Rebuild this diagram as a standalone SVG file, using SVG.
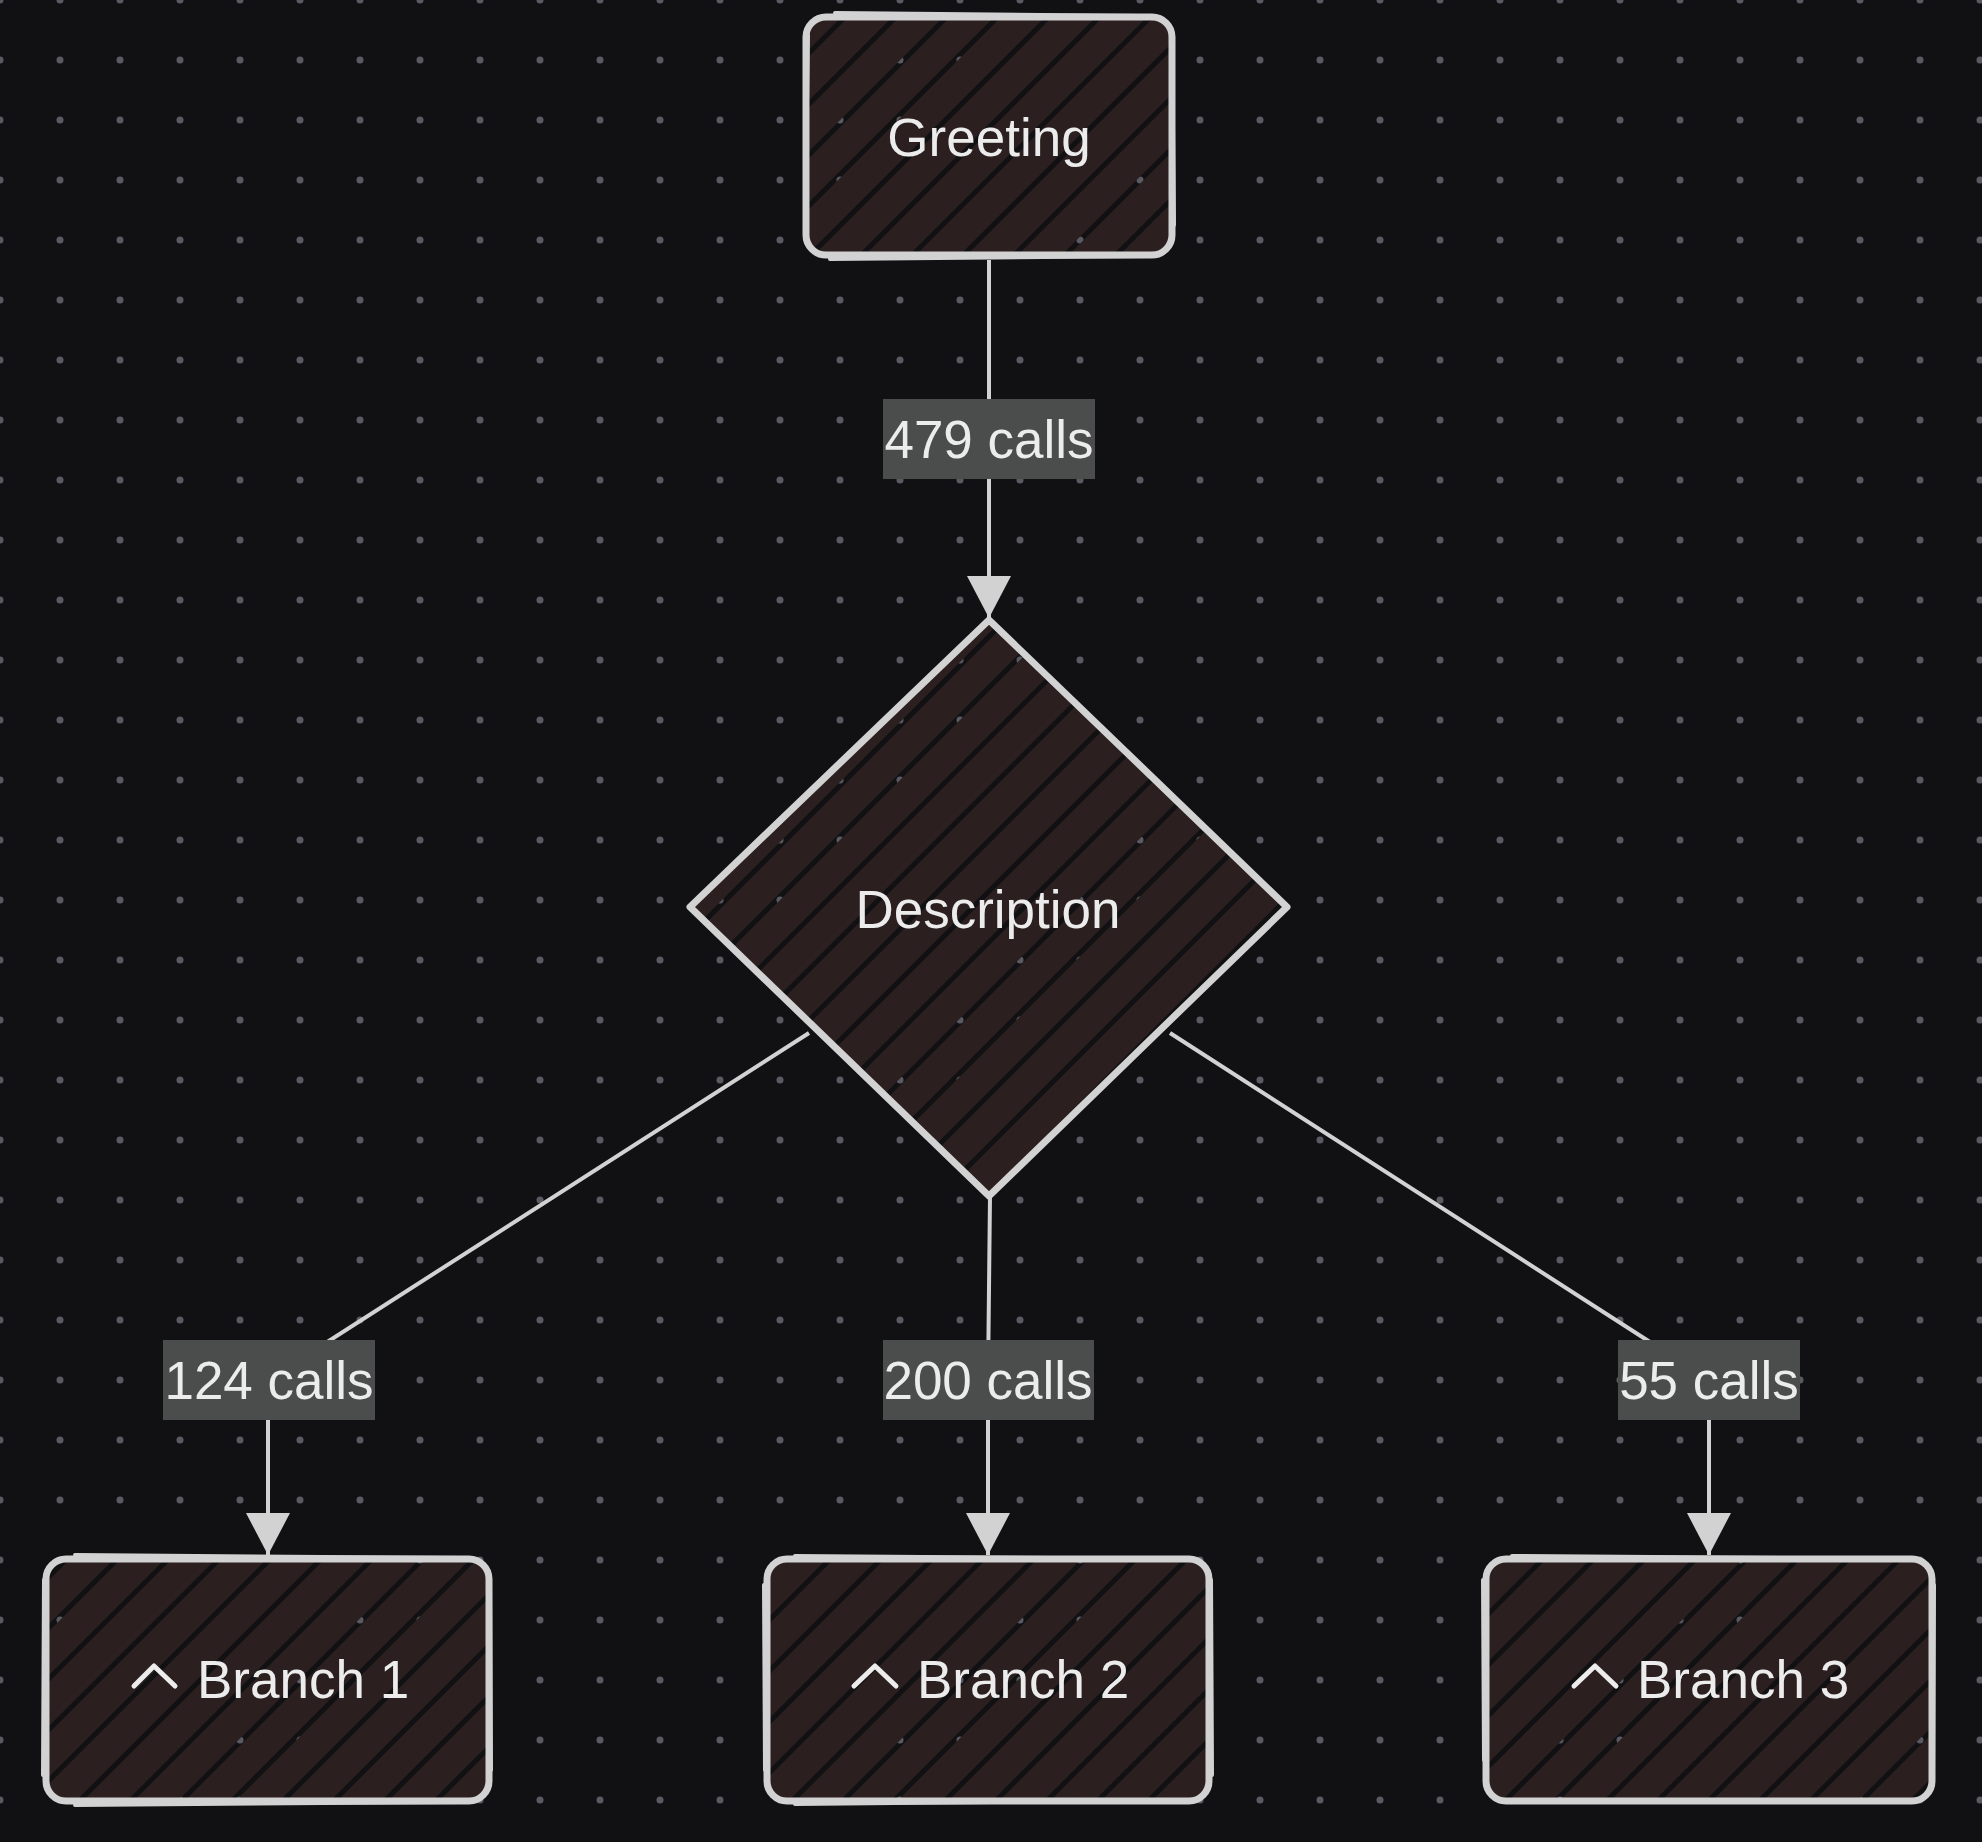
<svg xmlns="http://www.w3.org/2000/svg" width="1982" height="1842" viewBox="0 0 1982 1842">
  <defs>
    <pattern id="dots" x="-30" y="-30" width="60" height="60" patternUnits="userSpaceOnUse">
      <circle cx="30" cy="30" r="3.5" fill="#5a5a62"/>
    </pattern>
    <pattern id="hatch" width="36" height="36" patternUnits="userSpaceOnUse" patternTransform="rotate(-45)">
      <rect x="0" y="0" width="36" height="31" fill="#2b1f20"/>
    </pattern>
    <marker id="arrow" viewBox="0 0 42 44" refX="42" refY="22" markerWidth="42" markerHeight="44" markerUnits="userSpaceOnUse" orient="auto">
      <path d="M0,0 L42,22 L0,44 Z" fill="#d2d2d2"/>
    </marker>
    <style>
      .node { fill: url(#hatch); stroke: #d2d2d2; stroke-width: 7; stroke-linejoin: round; }
      .sketch { fill: none; stroke: #d2d2d2; stroke-width: 4; stroke-linecap: round; }
      .edge { fill: none; stroke: #d2d2d2; stroke-width: 4; stroke-linejoin: round; }
      .lblbg { fill: #4b4c4c; }
      .txt { font-family: "Liberation Sans", Arial, sans-serif; font-size: 53px; fill: #ececec; }
      .mid { text-anchor: middle; }
      .icon { fill: none; stroke: #ececec; stroke-width: 5; stroke-linecap: round; stroke-linejoin: round; }
    </style>
  </defs>

  <rect x="0" y="0" width="1982" height="1842" fill="#111114"/>
  <rect x="0" y="0" width="1982" height="1842" fill="url(#dots)"/>

  <g id="connectors">
    <path class="edge" d="M989 260 L989 618" marker-end="url(#arrow)"/>
    <path class="edge" d="M809 1033 L268 1380 L268 1555" marker-end="url(#arrow)"/>
    <path class="edge" d="M990 1196 L988 1380 L988 1555" marker-end="url(#arrow)"/>
    <path class="edge" d="M1170 1033 L1709 1380 L1709 1555" marker-end="url(#arrow)"/>

    <g id="label-479">
      <rect class="lblbg" x="883" y="399" width="212" height="80"/>
      <text class="txt mid" x="989" y="458">479 calls</text>
    </g>
    <g id="label-124">
      <rect class="lblbg" x="163" y="1340" width="212" height="80"/>
      <text class="txt mid" x="269" y="1399">124 calls</text>
    </g>
    <g id="label-200">
      <rect class="lblbg" x="883" y="1340" width="211" height="80"/>
      <text class="txt mid" x="988" y="1399">200 calls</text>
    </g>
    <g id="label-55">
      <rect class="lblbg" x="1618" y="1340" width="182" height="80"/>
      <text class="txt mid" x="1709" y="1399">55 calls</text>
    </g>
  </g>

  <g id="node-greeting">
    <rect class="node" x="806" y="17" width="366" height="238" rx="20" ry="20"/>
    <path class="sketch" d="M835 13 L1140 16 M808 35 L805 228 M1172 30 L1174 225 M830 259 L1150 256"/>
    <text class="txt mid" x="989" y="156">Greeting</text>
  </g>

  <g id="node-description">
    <polygon class="node" points="989,620 1287,907 989,1196 690,907"/>
    <text class="txt mid" x="988" y="928">Description</text>
  </g>

  <g id="node-branch1">
    <rect class="node" x="46" y="1559" width="443" height="242" rx="20" ry="20"/>
    <path class="sketch" d="M75 1555 L460 1558 M44 1580 L43 1775 M490 1582 L491 1770 M75 1805 L460 1802"/>
    <polyline class="icon" points="134,1686 154,1666 175,1686"/>
    <text class="txt" x="197" y="1698">Branch 1</text>
  </g>

  <g id="node-branch2">
    <rect class="node" x="767" y="1559" width="442" height="242" rx="20" ry="20"/>
    <path class="sketch" d="M795 1556 L1185 1559 M764 1585 L765 1770 M1211 1580 L1212 1775 M795 1804 L1185 1800"/>
    <polyline class="icon" points="854,1686 875,1666 896,1686"/>
    <text class="txt" x="917" y="1698">Branch 2</text>
  </g>

  <g id="node-branch3">
    <rect class="node" x="1486" y="1559" width="446" height="242" rx="20" ry="20"/>
    <path class="sketch" d="M1512 1556 L1900 1559 M1483 1580 L1484 1760 M1934 1585 L1933 1775 M1512 1802 L1905 1800"/>
    <polyline class="icon" points="1574,1686 1595,1666 1616,1686"/>
    <text class="txt" x="1637" y="1698">Branch 3</text>
  </g>
</svg>
